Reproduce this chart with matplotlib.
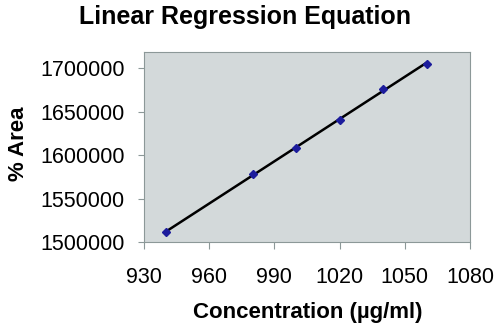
import numpy as np
import matplotlib
matplotlib.use("Agg")
import matplotlib.pyplot as plt

plt.rcParams['font.family'] = ['Liberation Sans', 'DejaVu Sans']

concentration = [940, 980, 1000, 1020, 1040, 1060]
area = [1511200, 1578000, 1608600, 1640500, 1675900, 1705100]
x_ticks = [930, 960, 990, 1020, 1050, 1080]
y_ticks = [1500000, 1550000, 1600000, 1650000, 1700000]

fig = plt.figure(figsize=(5.0, 3.24), dpi=100)
ax = fig.add_axes([0.288, 0.2531, 0.652, 0.5873])
ax.set_facecolor('#D3D9DA')

slope, intercept = np.polyfit(concentration, area, 1)
xs = np.array([concentration[0], concentration[-1]])
ax.plot(xs, slope * xs + intercept, color='black', lw=1.8, zorder=2)
ax.plot(concentration, area, linestyle='none', marker='D', ms=4,
        color='#1C1C9C', zorder=3)

ax.set_xlim(930, 1080)
ax.set_ylim(1500000, 1719000)
ax.set_xticks(x_ticks)
ax.set_yticks(y_ticks)
ax.set_xticklabels([str(v) for v in x_ticks])
ax.set_yticklabels([str(v) for v in y_ticks])
ax.tick_params(axis='both', direction='out', length=4, width=0.8,
               color='#8C9898', labelsize=15.5)
ax.tick_params(axis='y', pad=10)
ax.tick_params(axis='x', length=5, pad=13)
for s in ax.spines.values():
    s.set_color('#8C9898')
    s.set_linewidth(0.8)

fig.text(0.49, 0.947, 'Linear Regression Equation', ha='center', va='center',
         fontsize=18, fontweight='bold')
fig.text(0.615, 0.037, 'Concentration (µg/ml)', ha='center', va='center',
         fontsize=16, fontweight='bold')
fig.text(0.036, 0.555, '% Area', ha='center', va='center', rotation=90,
         fontsize=16, fontweight='bold')

fig.savefig('out.png', dpi=100)
